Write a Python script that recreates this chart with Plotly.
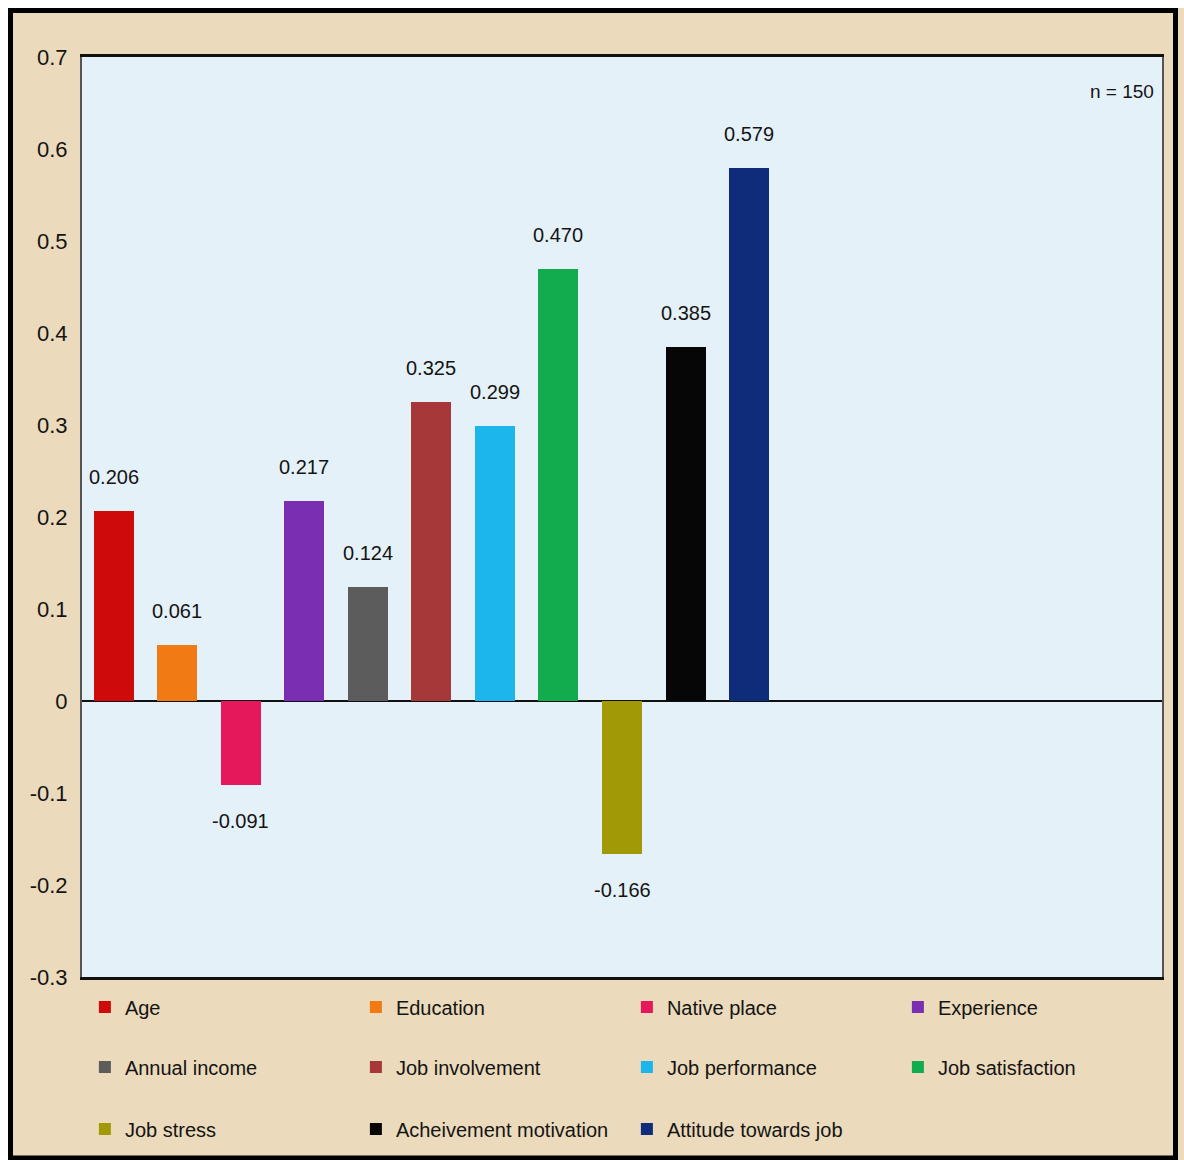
import plotly.graph_objects as go

# Correlation of each factor with the outcome (n = 150)
categories = [
    "Age", "Education", "Native place", "Experience",
    "Annual income", "Job involvement", "Job performance", "Job satisfaction",
    "Job stress", "Acheivement motivation", "Attitude towards job",
]
values = [0.206, 0.061, -0.091, 0.217, 0.124, 0.325, 0.299, 0.470, -0.166, 0.385, 0.579]
colors = [
    "#cf0a0a", "#f27a14", "#e5185c", "#7a2fb2",
    "#5c5c5c", "#a6383a", "#1cb5ec", "#12ac4f",
    "#a19a06", "#060606", "#0e2c7a",
]
y_tick_vals = [-0.3, -0.2, -0.1, 0, 0.1, 0.2, 0.3, 0.4, 0.5, 0.6, 0.7]
y_tick_text = ["-0.3", "-0.2", "-0.1", "0", "0.1", "0.2", "0.3", "0.4", "0.5", "0.6", "0.7"]
sample_note = "n = 150"

W, H = 1184, 1160
ML, MR, MT, MB = 82, 22, 57, 183
PW, PH = W - ML - MR, H - MT - MB

FONT = "Liberation Sans, Arial, sans-serif"
INK = "#141414"


def px_x(x):
    return (x - ML) / PW


def px_y(y):
    return (H - MB - y) / PH


fig = go.Figure()
legend_ids = ["legend", "legend2", "legend3"]
for i, (cat, val, col) in enumerate(zip(categories, values, colors)):
    fig.add_trace(go.Bar(
        x=[cat], y=[val], name=cat,
        marker=dict(color=col, line=dict(width=0)),
        width=0.63,
        legend=legend_ids[i // 4],
        hovertemplate="%{x}: %{y:.3f}<extra></extra>",
    ))

# Value labels above positive bars and below negative ones
value_labels = [
    dict(x=cat, y=val, xref="x", yref="y", text=f"{val:.3f}",
         showarrow=False, xanchor="center", yanchor="middle",
         yshift=34 if val >= 0 else -36,
         font=dict(family=FONT, size=20, color=INK))
    for cat, val in zip(categories, values)
]

legend_rows_y = [1007, 1067, 1129]
legend_common = dict(
    orientation="h", xanchor="left", yanchor="middle",
    entrywidth=223, entrywidthmode="pixels", indentation=3,
    bgcolor="rgba(0,0,0,0)", borderwidth=0,
    font=dict(family=FONT, size=20, color=INK),
    itemwidth=30, traceorder="normal",
)

# Outer frame: white rim, then black border around the beige page
shapes = [
    dict(type="rect", xref="paper", yref="paper", layer="below",
         x0=px_x(0), x1=px_x(W), y0=px_y(0), y1=px_y(8),
         fillcolor="white", line=dict(width=0)),
    dict(type="rect", xref="paper", yref="paper", layer="below",
         x0=px_x(0), x1=px_x(8), y0=px_y(0), y1=px_y(H),
         fillcolor="white", line=dict(width=0)),
    dict(type="rect", xref="paper", yref="paper", layer="above",
         x0=px_x(10.5), x1=px_x(1175.5), y0=px_y(1158), y1=px_y(10.5),
         fillcolor="rgba(0,0,0,0)", line=dict(color="#000000", width=5)),
]

fig.update_layout(
    width=W, height=H,
    margin=dict(l=ML, r=MR, t=MT, b=MB, pad=0),
    paper_bgcolor="#ebdabb",
    plot_bgcolor="#e4f1f8",
    barmode="overlay",
    bargap=0,
    showlegend=True,
    legend=dict(legend_common, x=-0.0001, y=px_y(legend_rows_y[0])),
    legend2=dict(legend_common, x=-0.0001, y=px_y(legend_rows_y[1])),
    legend3=dict(legend_common, x=-0.0001, y=px_y(legend_rows_y[2])),
    xaxis=dict(
        type="category", categoryorder="array", categoryarray=categories,
        range=[-0.5, 16.5], showticklabels=False, ticks="",
        showgrid=False, zeroline=False,
        showline=True, linecolor="#111111", linewidth=3, mirror=True,
    ),
    yaxis=dict(
        range=[-0.3, 0.7], tickvals=y_tick_vals, ticktext=y_tick_text,
        tickfont=dict(family=FONT, size=22, color=INK),
        ticks="", ticklabelstandoff=8,
        showgrid=False,
        zeroline=True, zerolinecolor="#111111", zerolinewidth=2,
        showline=True, linecolor="#555555", linewidth=2, mirror=True,
    ),
    shapes=shapes,
    annotations=value_labels + [dict(
        text=sample_note, xref="paper", yref="paper",
        x=px_x(1156), y=px_y(91), xanchor="right", yanchor="middle",
        showarrow=False, font=dict(family=FONT, size=19, color=INK),
    )],
    font=dict(family=FONT, color=INK),
)

fig.write_html("out.html")
